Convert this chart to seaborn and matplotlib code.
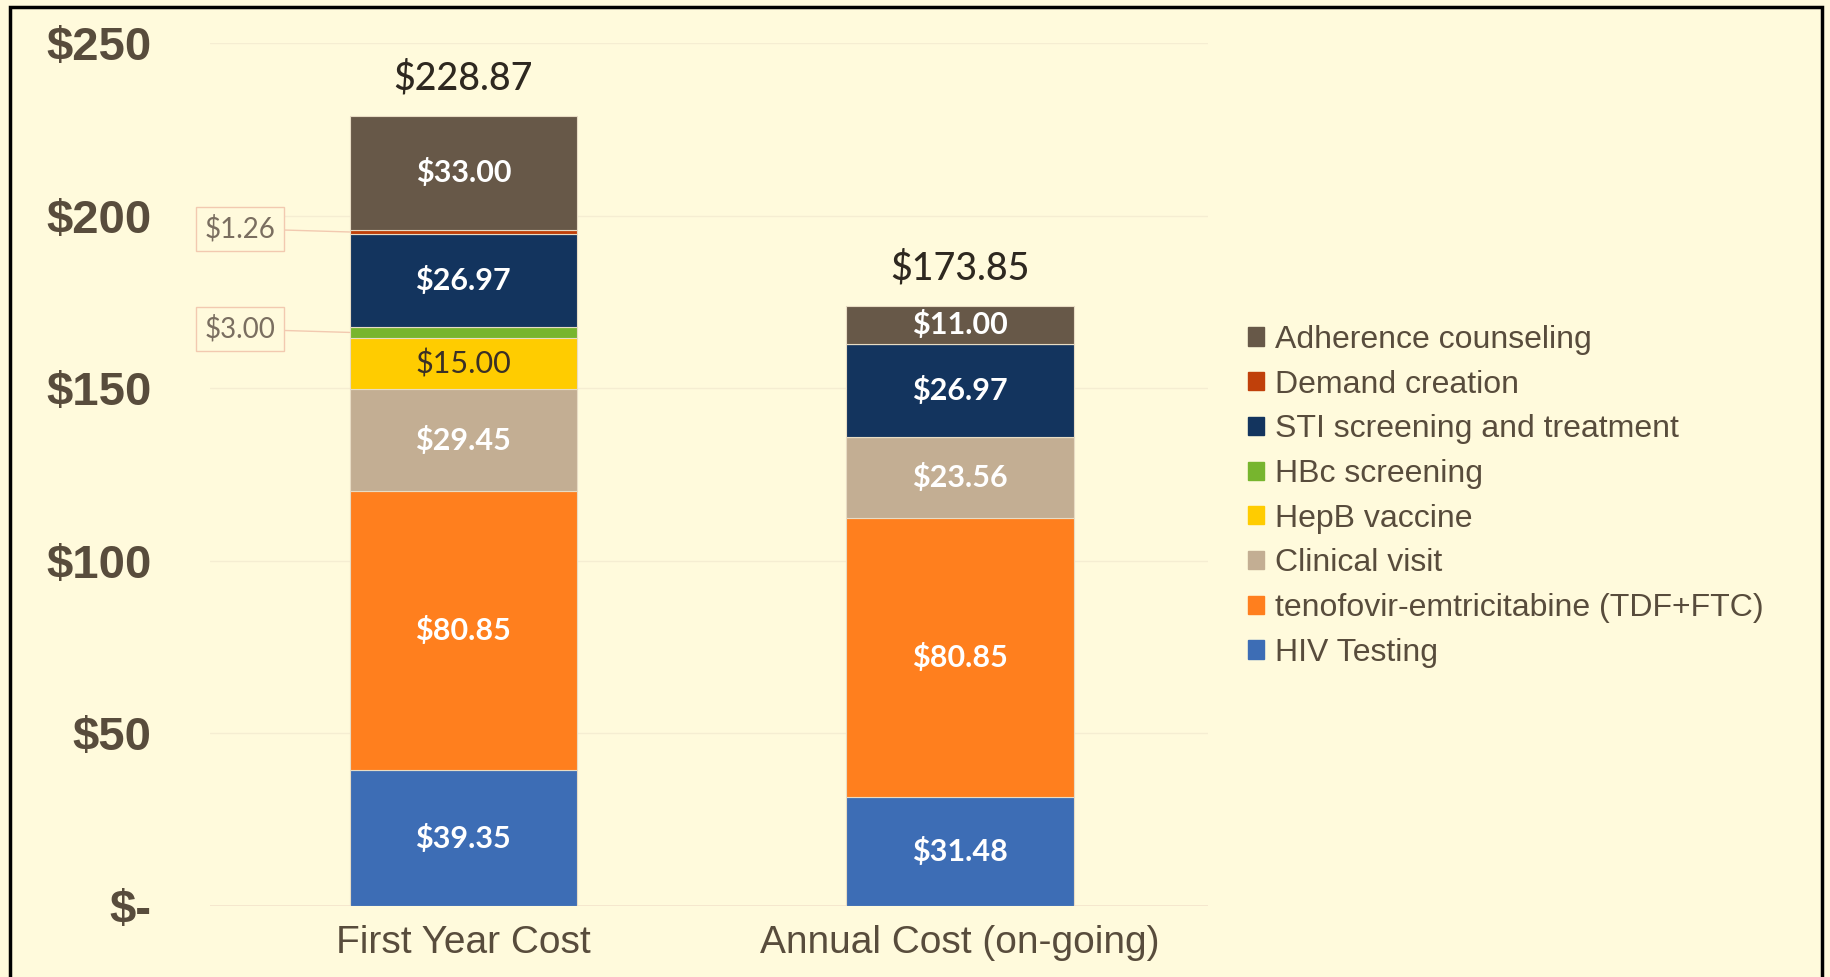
import matplotlib
matplotlib.use("Agg")
import matplotlib.pyplot as plt
import matplotlib.patches as mpatches
import numpy as np
import pandas as pd
import seaborn as sns

# data
periods = ['First Year Cost', 'Annual Cost (on-going)']
components = ['HIV Testing', 'tenofovir-emtricitabine (TDF+FTC)', 'Clinical visit',
              'HepB vaccine', 'HBc screening', 'STI screening and treatment',
              'Demand creation', 'Adherence counseling']
first_year = [39.35, 80.85, 29.45, 15.00, 3.00, 26.97, 1.26, 33.00]
annual = [31.48, 80.85, 23.56, 0.0, 0.0, 26.97, 0.0, 11.00]
totals = [228.87, 173.85]
y_ticks = [0, 50, 100, 150, 200, 250]
y_tick_labels = ['$-', '$50', '$100', '$150', '$200', '$250']

colors = ['#3D6DB5', '#FF7F1E', '#C3AE93', '#FFCC00', '#77B52E', '#13345E', '#C0400A', '#675848']
label_colors = ['white', 'white', 'white', '#3a3026', 'white', 'white', 'white', 'white']

bg = '#FFFADC'
txt = '#584C3C'

sns.set_style('white')
plt.rcParams['font.family'] = ['Liberation Sans', 'DejaVu Sans']

fig = plt.figure(figsize=(18.31, 9.77), dpi=100, facecolor=bg)
ax = fig.add_axes([0.1147, 0.0727, 0.5453, 0.8833])
ax.set_facecolor(bg)

df = pd.DataFrame({'period': np.repeat(periods, len(components)),
                   'component': components * 2,
                   'value': first_year + annual})

bottom = np.zeros(len(periods))
for i, comp in enumerate(components):
    sub = df[df['component'] == comp].set_index('period').loc[periods].reset_index()
    sns.barplot(data=sub, x='period', y='value', order=periods, bottom=bottom,
                color=colors[i], width=0.458, errorbar=None, ax=ax,
                edgecolor='#E8DCC4', linewidth=0.8, saturation=1)
    vals = sub['value'].to_numpy()
    for j, v in enumerate(vals):
        if v >= 10:
            ax.text(j, bottom[j] + v / 2, f'${v:.2f}', ha='center', va='center',
                    color=label_colors[i], fontsize=22,
                    fontweight='bold' if label_colors[i] == 'white' else 'normal',
                    family=['Lato', 'DejaVu Sans'])
    bottom += vals

for j, t in enumerate(totals):
    ax.text(j, bottom[j] + 5.5, f'${t:.2f}', ha='center', va='bottom', color='#2e2820',
            fontsize=27, fontweight='medium', family=['Lato', 'DejaVu Sans'])

# callouts for small segments
callouts = [(first_year[6], sum(first_year[:6]) + first_year[6] / 2, 196.2),
            (first_year[4], sum(first_year[:4]) + first_year[4] / 2, 167.1)]
for v, seg_y, box_y in callouts:
    ax.annotate(f'${v:.2f}', xy=(-0.229, seg_y), xytext=(-0.45, box_y),
                ha='center', va='center', fontsize=20, color='#7a6e60',
                family=['Lato', 'DejaVu Sans'],
                bbox=dict(boxstyle='square,pad=0.3', fc=bg, ec='#F2C9B0', lw=1),
                arrowprops=dict(arrowstyle='-', color='#F2C9B0', lw=1,
                                shrinkA=0, shrinkB=0))

ax.set_xlim(-0.51, 1.5)
ax.set_ylim(0, 250)
ax.set_yticks(y_ticks)
ax.set_yticklabels(y_tick_labels, fontsize=34, fontweight='bold', color=txt)
ax.set_xticks(range(len(periods)))
ax.set_xticklabels(periods, fontsize=28, color=txt)
ax.tick_params(axis='y', length=0, pad=42)
ax.tick_params(axis='x', length=0, pad=14)
ax.yaxis.grid(True, color='#F5EDD2', lw=1)
ax.set_axisbelow(True)
ax.set_xlabel('')
ax.set_ylabel('')
for s in ax.spines.values():
    s.set_visible(False)
ax.axhline(0, color='#F3E3CC', lw=1.2, zorder=0)

handles = [mpatches.Patch(color=colors[i], label=components[i]) for i in reversed(range(len(components)))]
leg = fig.legend(handles=handles, loc='center left', bbox_to_anchor=(0.666, 0.492),
                 frameon=False, fontsize=23, handlelength=0.5, handleheight=0.5,
                 handletextpad=0.35, labelspacing=0.46, labelcolor=txt)

fig.add_artist(mpatches.Rectangle((10 / 1831, -0.01), 1812 / 1831, 1 - 7 / 977 + 0.01,
                                  transform=fig.transFigure, fill=False,
                                  ec='black', lw=2.5))

fig.savefig('out.png', dpi=100, facecolor=bg)
